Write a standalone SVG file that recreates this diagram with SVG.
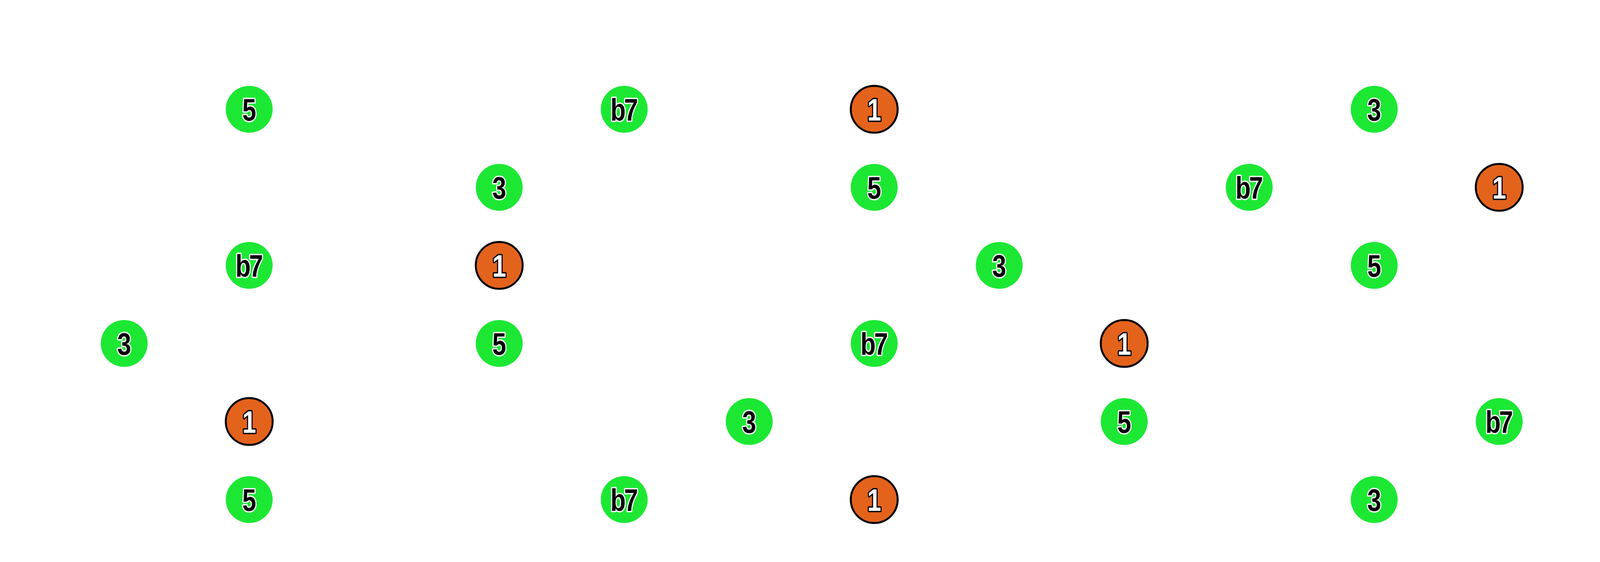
<svg xmlns="http://www.w3.org/2000/svg" width="6000" height="1440" viewBox="0 0 6000 1440">
<style>
.g{fill:#1ce834}
.r{fill:#e4631c;stroke:#000;stroke-width:5}
text{font-family:"Liberation Sans",Arial,sans-serif;font-weight:bold;font-size:80px;text-anchor:middle;paint-order:stroke;stroke-linejoin:round}
.tg{fill:#000;stroke:#fff;stroke-width:7}
.tr{fill:#fff;stroke:#000;stroke-width:7}
.w{letter-spacing:-5px}
</style>
<rect width="6000" height="1440" fill="#fff"/>
<g id="connectors"/>
<g id="nodes">
<g id="n0-1"><circle class="g" cx="638" cy="280" r="60"/><text class="tg" transform="translate(638,309) scale(0.8,1)">5</text></g>
<g id="n0-4"><circle class="g" cx="1598" cy="280" r="60"/><text class="tg w" transform="translate(1596,309) scale(0.8,1)">b7</text></g>
<g id="n0-6"><circle class="r" cx="2238" cy="280" r="60"/><text class="tr" transform="translate(2238,309) scale(0.8,1)">1</text></g>
<g id="n0-10"><circle class="g" cx="3518" cy="280" r="60"/><text class="tg" transform="translate(3518,309) scale(0.8,1)">3</text></g>
<g id="n0-13"><circle class="g" cx="4478" cy="280" r="60"/><text class="tg" transform="translate(4478,309) scale(0.8,1)">5</text></g>
<g id="n0-16"><circle class="g" cx="5438" cy="280" r="60"/><text class="tg w" transform="translate(5436,309) scale(0.8,1)">b7</text></g>
<g id="n1-3"><circle class="g" cx="1278" cy="480" r="60"/><text class="tg" transform="translate(1278,509) scale(0.8,1)">3</text></g>
<g id="n1-6"><circle class="g" cx="2238" cy="480" r="60"/><text class="tg" transform="translate(2238,509) scale(0.8,1)">5</text></g>
<g id="n1-9"><circle class="g" cx="3198" cy="480" r="60"/><text class="tg w" transform="translate(3196,509) scale(0.8,1)">b7</text></g>
<g id="n1-11"><circle class="r" cx="3838" cy="480" r="60"/><text class="tr" transform="translate(3838,509) scale(0.8,1)">1</text></g>
<g id="n1-15"><circle class="g" cx="5118" cy="480" r="60"/><text class="tg" transform="translate(5118,509) scale(0.8,1)">3</text></g>
<g id="n2-1"><circle class="g" cx="638" cy="680" r="60"/><text class="tg w" transform="translate(636,709) scale(0.8,1)">b7</text></g>
<g id="n2-3"><circle class="r" cx="1278" cy="680" r="60"/><text class="tr" transform="translate(1278,709) scale(0.8,1)">1</text></g>
<g id="n2-7"><circle class="g" cx="2558" cy="680" r="60"/><text class="tg" transform="translate(2558,709) scale(0.8,1)">3</text></g>
<g id="n2-10"><circle class="g" cx="3518" cy="680" r="60"/><text class="tg" transform="translate(3518,709) scale(0.8,1)">5</text></g>
<g id="n2-13"><circle class="g" cx="4478" cy="680" r="60"/><text class="tg w" transform="translate(4476,709) scale(0.8,1)">b7</text></g>
<g id="n2-15"><circle class="r" cx="5118" cy="680" r="60"/><text class="tr" transform="translate(5118,709) scale(0.8,1)">1</text></g>
<g id="n3-0"><circle class="g" cx="318" cy="880" r="60"/><text class="tg" transform="translate(318,909) scale(0.8,1)">3</text></g>
<g id="n3-3"><circle class="g" cx="1278" cy="880" r="60"/><text class="tg" transform="translate(1278,909) scale(0.8,1)">5</text></g>
<g id="n3-6"><circle class="g" cx="2238" cy="880" r="60"/><text class="tg w" transform="translate(2236,909) scale(0.8,1)">b7</text></g>
<g id="n3-8"><circle class="r" cx="2878" cy="880" r="60"/><text class="tr" transform="translate(2878,909) scale(0.8,1)">1</text></g>
<g id="n3-12"><circle class="g" cx="4158" cy="880" r="60"/><text class="tg" transform="translate(4158,909) scale(0.8,1)">3</text></g>
<g id="n3-15"><circle class="g" cx="5118" cy="880" r="60"/><text class="tg" transform="translate(5118,909) scale(0.8,1)">5</text></g>
<g id="n4-1"><circle class="r" cx="638" cy="1080" r="60"/><text class="tr" transform="translate(638,1109) scale(0.8,1)">1</text></g>
<g id="n4-5"><circle class="g" cx="1918" cy="1080" r="60"/><text class="tg" transform="translate(1918,1109) scale(0.8,1)">3</text></g>
<g id="n4-8"><circle class="g" cx="2878" cy="1080" r="60"/><text class="tg" transform="translate(2878,1109) scale(0.8,1)">5</text></g>
<g id="n4-11"><circle class="g" cx="3838" cy="1080" r="60"/><text class="tg w" transform="translate(3836,1109) scale(0.8,1)">b7</text></g>
<g id="n4-13"><circle class="r" cx="4478" cy="1080" r="60"/><text class="tr" transform="translate(4478,1109) scale(0.8,1)">1</text></g>
<g id="n4-17"><circle class="g" cx="5758" cy="1080" r="60"/><text class="tg" transform="translate(5758,1109) scale(0.8,1)">3</text></g>
<g id="n5-1"><circle class="g" cx="638" cy="1280" r="60"/><text class="tg" transform="translate(638,1309) scale(0.8,1)">5</text></g>
<g id="n5-4"><circle class="g" cx="1598" cy="1280" r="60"/><text class="tg w" transform="translate(1596,1309) scale(0.8,1)">b7</text></g>
<g id="n5-6"><circle class="r" cx="2238" cy="1280" r="60"/><text class="tr" transform="translate(2238,1309) scale(0.8,1)">1</text></g>
<g id="n5-10"><circle class="g" cx="3518" cy="1280" r="60"/><text class="tg" transform="translate(3518,1309) scale(0.8,1)">3</text></g>
<g id="n5-13"><circle class="g" cx="4478" cy="1280" r="60"/><text class="tg" transform="translate(4478,1309) scale(0.8,1)">5</text></g>
<g id="n5-16"><circle class="g" cx="5438" cy="1280" r="60"/><text class="tg w" transform="translate(5436,1309) scale(0.8,1)">b7</text></g>
</g>
</svg>
